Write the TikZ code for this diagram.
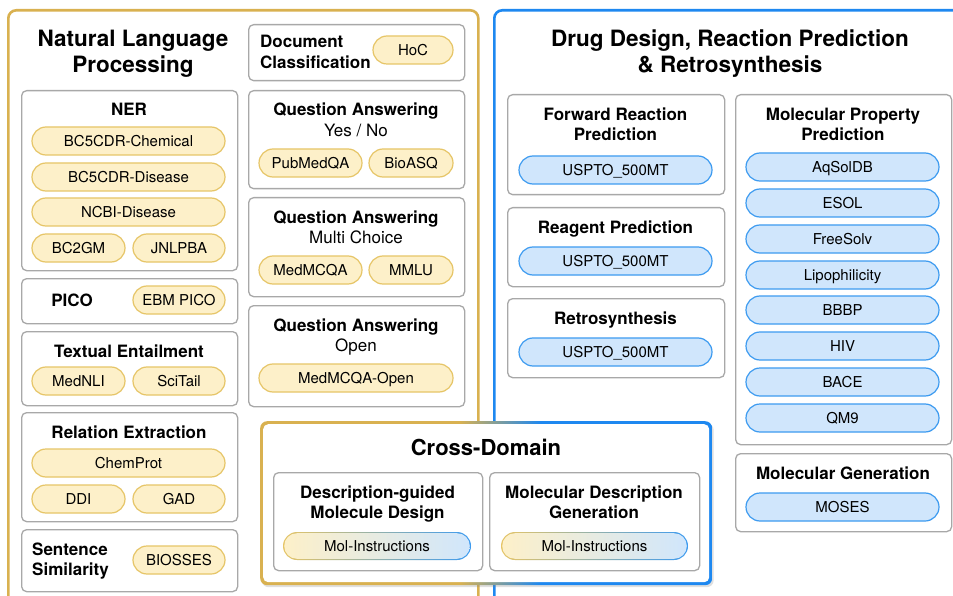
\documentclass[tikz,border=0pt]{standalone}
\usepackage{fontspec}
\setmainfont{TeX Gyre Heros}
\usetikzlibrary{shapes.misc,shadows}
\definecolor{nlpgold}{HTML}{D9B150}
\definecolor{drugblue}{HTML}{1E88F0}
\definecolor{boxgray}{HTML}{A8A8A8}
\definecolor{pillYf}{HTML}{FDF0C9}
\definecolor{pillYb}{HTML}{E6C567}
\definecolor{pillBf}{HTML}{D0E6FC}
\definecolor{pillBb}{HTML}{3D9BF0}
\newcommand\fsz[2]{\fontsize{#1}{#2}\selectfont}
\pgfdeclarehorizontalshading{goldblue}{100bp}{color(0bp)=(nlpgold); color(47bp)=(nlpgold); color(56bp)=(drugblue); color(100bp)=(drugblue)}
\tikzset{
  outerbox/.style={rounded corners=8pt, line width=2.6pt, fill=white, anchor=north west, inner sep=0pt},
  box/.style={draw=boxgray, line width=1.3pt, rounded corners=5pt, fill=white, anchor=north west, inner sep=0pt},
  pill/.style={rounded rectangle, minimum height=28pt, inner sep=0pt, line width=1.2pt, font=\fsz{15}{18}, text height=10.8pt, text depth=0pt},
  ypill/.style={pill, draw=pillYb, fill=pillYf},
  bpill/.style={pill, draw=pillBb, fill=pillBf},
  gpo/.style={pill, left color=pillYb, right color=pillBb, draw=none},
  gpi/.style={pill, left color=pillYf, right color=pillBf, minimum height=25.6pt},
  ttl/.style={font=\bfseries\fsz{17}{20}, inner sep=0pt, text height=12.3pt, text depth=0pt},
  sub/.style={font=\fsz{17}{20}, inner sep=0pt, text height=12.3pt, text depth=0pt},
  big/.style={font=\bfseries\fsz{22.5}{26}, inner sep=0pt, text height=16.2pt, text depth=0pt},
}
\begin{document}
\begin{tikzpicture}[x=1pt,y=-1pt]
\useasboundingbox (0,0) rectangle (953,596);
\clip (0,0) rectangle (953,596);
\fill[white] (0,0) rectangle (953,596);

% outer domains
\node[outerbox, draw=nlpgold, minimum width=470pt, minimum height=640pt] (nlp) at (7,9) {};
\node[outerbox, draw=drugblue, minimum width=480pt, minimum height=640pt] (drug) at (493,9) {};
\node[big] (nlpT1) at (133,38) {Natural Language};
\node[big] (nlpT2) at (133,64) {Processing};
\node[big] (drugT1) at (730,38) {Drug Design, Reaction Prediction};
\node[big] (drugT2) at (730,64) {\& Retrosynthesis};

% NLP left column
\node[box, minimum width=216pt, minimum height=180pt] (ner) at (21,90) {};
\node[ttl] (nerT) at (129,109) {NER};
\node[ypill, minimum width=193pt] (p1) at (128.5,141) {BC5CDR-Chemical};
\node[ypill, minimum width=193pt] (p2) at (128.5,177) {BC5CDR-Disease};
\node[ypill, minimum width=193pt] (p3) at (128.5,212) {NCBI-Disease};
\node[ypill, minimum width=93pt] (p4) at (78.5,248) {BC2GM};
\node[ypill, minimum width=92pt] (p5) at (179,248) {JNLPBA};

\node[box, minimum width=216pt, minimum height=45pt] (pico) at (21,278) {};
\node[ttl] (picoT) at (72,300) {PICO};
\node[ypill, minimum width=92pt] (p6) at (179,300) {EBM PICO};

\node[box, minimum width=216pt, minimum height=74pt] (te) at (21,331) {};
\node[ttl] (teT) at (129,351) {Textual Entailment};
\node[ypill, minimum width=93pt] (p7) at (78.5,381) {MedNLI};
\node[ypill, minimum width=92pt] (p8) at (179,381) {SciTail};

\node[box, minimum width=216pt, minimum height=109pt] (re) at (21,412) {};
\node[ttl] (reT) at (129,432) {Relation Extraction};
\node[ypill, minimum width=193pt] (p9) at (128.5,463) {ChemProt};
\node[ypill, minimum width=93pt] (p10) at (78.5,499) {DDI};
\node[ypill, minimum width=92pt] (p11) at (179,499) {GAD};

\node[box, minimum width=216pt, minimum height=62pt] (ss) at (21,529) {};
\node[ttl, anchor=west] (ssT1) at (32,549) {Sentence};
\node[ttl, anchor=west] (ssT2) at (32,569) {Similarity};
\node[ypill, minimum width=92pt] (p12) at (179,560) {BIOSSES};

% NLP right column
\node[box, minimum width=216pt, minimum height=56pt] (dc) at (248,24) {};
\node[ttl, anchor=west] (dcT1) at (260,41) {Document};
\node[ttl, anchor=west] (dcT2) at (260,62) {Classification};
\node[ypill, minimum width=80pt] (p13) at (413,50) {HoC};

\node[box, minimum width=216pt, minimum height=98pt] (qa1) at (248,90) {};
\node[ttl] (qa1T) at (356,109) {Question Answering};
\node[sub] (qa1S) at (356,130) {Yes / No};
\node[ypill, minimum width=103pt] (p14) at (310.5,163) {PubMedQA};
\node[ypill, minimum width=84pt] (p15) at (411,163) {BioASQ};

\node[box, minimum width=216pt, minimum height=99pt] (qa2) at (248,197) {};
\node[ttl] (qa2T) at (356,217) {Question Answering};
\node[sub] (qa2S) at (356,237) {Multi Choice};
\node[ypill, minimum width=103pt] (p16) at (310.5,270) {MedMCQA};
\node[ypill, minimum width=84pt] (p17) at (411,270) {MMLU};

\node[box, minimum width=216pt, minimum height=101pt] (qa3) at (248,305) {};
\node[ttl] (qa3T) at (356,325) {Question Answering};
\node[sub] (qa3S) at (356,345) {Open};
\node[ypill, minimum width=194pt] (p18) at (356,378) {MedMCQA-Open};

% Drug design left column
\node[box, minimum width=217pt, minimum height=100pt] (frp) at (507,94) {};
\node[ttl] (frpT1) at (615.5,114) {Forward Reaction};
\node[ttl] (frpT2) at (615.5,134) {Prediction};
\node[bpill, minimum width=193pt] (b1) at (615.5,170) {USPTO\_500MT};

\node[box, minimum width=217pt, minimum height=79pt] (rp) at (507,207) {};
\node[ttl] (rpT) at (615.5,227) {Reagent Prediction};
\node[bpill, minimum width=193pt] (b2) at (615.5,261) {USPTO\_500MT};

\node[box, minimum width=217pt, minimum height=79pt] (rs) at (507,298) {};
\node[ttl] (rsT) at (615.5,318) {Retrosynthesis};
\node[bpill, minimum width=193pt] (b3) at (615.5,352) {USPTO\_500MT};

% Drug design right column
\node[box, minimum width=216pt, minimum height=350pt] (mpp) at (735,94) {};
\node[ttl] (mppT1) at (843,114) {Molecular Property};
\node[ttl] (mppT2) at (843,134) {Prediction};
\node[bpill, minimum width=193pt] (b4) at (842.5,167) {AqSolDB};
\node[bpill, minimum width=193pt] (b5) at (842.5,203) {ESOL};
\node[bpill, minimum width=193pt] (b6) at (842.5,239) {FreeSolv};
\node[bpill, minimum width=193pt] (b7) at (842.5,275) {Lipophilicity};
\node[bpill, minimum width=193pt] (b8) at (842.5,310) {BBBP};
\node[bpill, minimum width=193pt] (b9) at (842.5,346) {HIV};
\node[bpill, minimum width=193pt] (b10) at (842.5,382) {BACE};
\node[bpill, minimum width=193pt] (b11) at (842.5,418) {QM9};

\node[box, minimum width=216pt, minimum height=78pt] (mg) at (735,453) {};
\node[ttl] (mgT) at (843,473) {Molecular Generation};
\node[bpill, minimum width=193pt] (b12) at (842.5,507) {MOSES};

% Cross-domain
\node[shade, shading=goldblue, rounded corners=7pt, anchor=north west, inner sep=0pt, minimum width=452pt, minimum height=164pt,
      drop shadow={opacity=0.25, shadow xshift=1.5pt, shadow yshift=-2pt}] (cd) at (260,421) {};
\node[fill=white, rounded corners=5pt, inner sep=0pt, minimum width=446pt, minimum height=158pt] (cdin) at (cd.center) {};
\node[big, font=\bfseries\fsz{22}{26}] (cdT) at (486,447) {Cross-Domain};

\node[box, minimum width=209pt, minimum height=98pt] (cd1) at (273,472) {};
\node[ttl] (cd1T1) at (377.5,492) {Description-guided};
\node[ttl] (cd1T2) at (377.5,512) {Molecule Design};
\node[gpo, minimum width=188pt] (g1o) at (377,546) {};
\node[gpi, minimum width=185.6pt] (g1) at (377,546) {Mol-Instructions};

\node[box, minimum width=210pt, minimum height=98pt] (cd2) at (489,472) {};
\node[ttl] (cd2T1) at (594,492) {Molecular Description};
\node[ttl] (cd2T2) at (594,512) {Generation};
\node[gpo, minimum width=187pt] (g2o) at (594.5,546) {};
\node[gpi, minimum width=184.6pt] (g2) at (594.5,546) {Mol-Instructions};
\end{tikzpicture}
\end{document}
